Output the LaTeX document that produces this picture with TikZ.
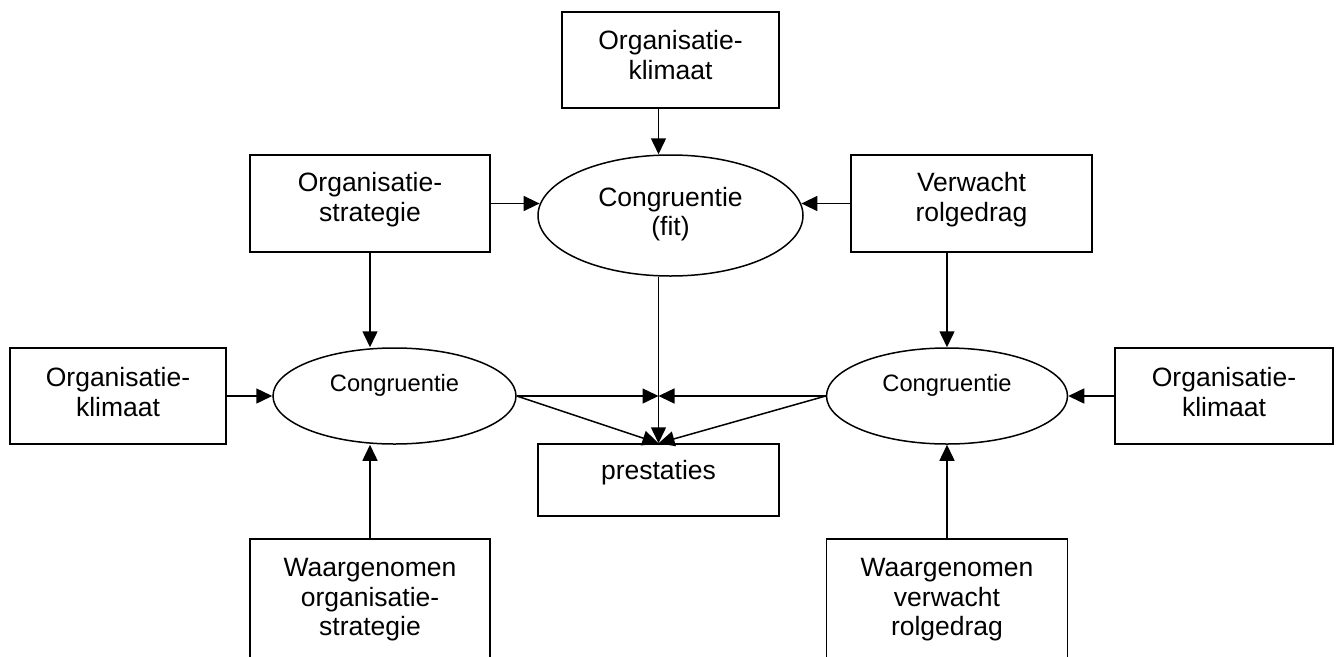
\documentclass[tikz,border=0pt]{standalone}
\usepackage{fontspec}
\setmainfont{Liberation Sans}
\usetikzlibrary{shapes.geometric,arrows.meta}
\begin{document}
\begin{tikzpicture}[x=1pt,y=-1pt,
  boxshape/.style={draw,line width=1.5pt,rectangle,inner sep=0pt},
  ellshape/.style={draw,line width=1.5pt,ellipse,inner sep=0pt},
  bigtxt/.style={align=center,font=\fontsize{26.5}{29.5}\selectfont,inner sep=0pt},
  smalltxt/.style={align=center,font=\fontsize{23.7}{27}\selectfont,inner sep=0pt},
  arr/.style={line width=1.5pt,-{Triangle[length=16pt,width=15pt]}}]
\useasboundingbox (0,0) rectangle (1338,656);
\clip (0,0) rectangle (1338,656);

% shapes
\node[boxshape,minimum width=217pt,minimum height=96pt] (topK) at (670.5,60) {};
\node[boxshape,minimum width=240pt,minimum height=97pt] (strat) at (370,203.5) {};
\node[ellshape,minimum width=265pt,minimum height=121pt] (fit) at (670.5,215.5) {};
\node[boxshape,minimum width=241pt,minimum height=97pt] (verw) at (971.5,203.5) {};
\node[boxshape,minimum width=216pt,minimum height=96pt] (leftK) at (118,396) {};
\node[ellshape,minimum width=243pt,minimum height=96pt] (leftE) at (394.5,396) {};
\node[boxshape,minimum width=241pt,minimum height=72pt] (pres) at (658.5,480) {};
\node[ellshape,minimum width=241pt,minimum height=96pt] (rightE) at (947,396) {};
\node[boxshape,minimum width=218pt,minimum height=96pt] (rightK) at (1224,396) {};
\node[boxshape,minimum width=240pt,minimum height=161pt] (waarL) at (370,619.5) {};
\node[boxshape,minimum width=241pt,minimum height=161pt] (waarR) at (947,619.5) {};

% texts
\node[bigtxt] (topKt) at (670.5,55) {Organisatie-\\klimaat};
\node[bigtxt] (stratt) at (370,199.5) {Organisatie-\\strategie};
\node[bigtxt] (fitt) at (670.5,214) {Congruentie\\(fit)};
\node[bigtxt] (verwt) at (971.5,199.5) {Verwacht\\rolgedrag};
\node[bigtxt] (leftKt) at (118,392) {Organisatie-\\klimaat};
\node[smalltxt] (leftEt) at (394.5,385.5) {Congruentie};
\node[bigtxt] (prest) at (658.5,472.5) {prestaties};
\node[smalltxt] (rightEt) at (947,385.5) {Congruentie};
\node[bigtxt] (rightKt) at (1224,392) {Organisatie-\\klimaat};
\node[bigtxt] (waarLt) at (370,600) {Waargenomen\\organisatie-\\strategie};
\node[bigtxt] (waarRt) at (947,600) {Waargenomen\\verwacht\\rolgedrag};

\coordinate (mid) at (pres.north |- leftE.east);

% connectors
\draw[arr] (topK.south -| pres.north) -- (fit.north -| pres.north);
\draw[arr] (fit.south -| pres.north) -- (pres.north);
\draw[arr] (strat.east) -- (fit.175 |- strat.east);
\draw[arr] (verw.west) -- (fit.5 |- verw.west);
\draw[arr] (strat.south) -- (strat.south |- leftE.north);
\draw[arr] (waarL.north) -- (waarL.north |- leftE.south);
\draw[arr] (verw.south -| rightE.north) -- (rightE.north);
\draw[arr] (waarR.north) -- (rightE.south);
\draw[arr] (leftK.east) -- (leftE.west);
\draw[arr] (rightK.west) -- (rightE.east);
\draw[arr] (leftE.east) -- (mid);
\draw[arr] (rightE.west) -- (mid);
\draw[arr] (leftE.east) -- (pres.north);
\draw[arr] (rightE.west) -- (pres.north);
\end{tikzpicture}
\end{document}
